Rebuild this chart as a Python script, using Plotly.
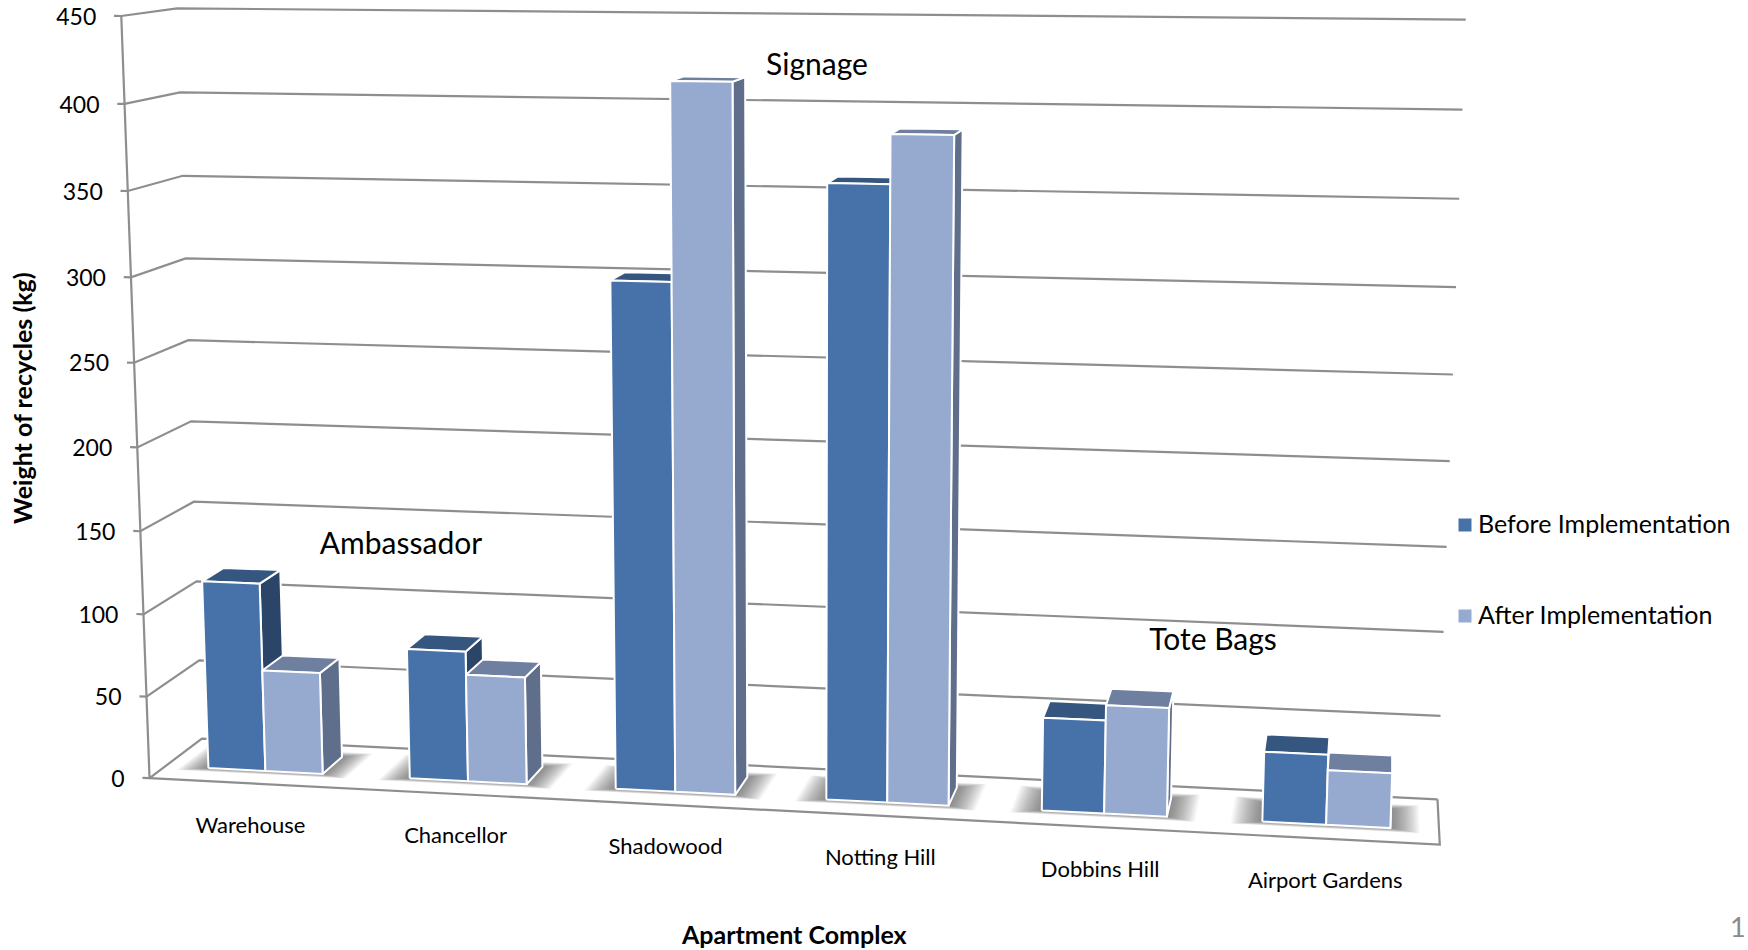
import numpy as np
import plotly.graph_objects as go

# Recycling weights per apartment complex (kg)
complexes = ["Warehouse", "Chancellor", "Shadowood", "Notting Hill", "Dobbins Hill", "Airport Gardens"]
before_kg = [115, 79, 301, 359, 55, 41]
after_kg = [62, 65, 415, 387, 64, 32]
value_ticks = [0, 50, 100, 150, 200, 250, 300, 350, 400, 450]
campaigns = ["Ambassador", "Signage", "Tote Bags"]
series_names = ["Before Implementation", "After Implementation"]

FONT = "Lato"
GRID = "#8e8e8e"
BLUE = {"front": "#4672A9", "top": "#35577F", "side": "#2B4569"}
PALE = {"front": "#96AAD0", "top": "#6E7F9F", "side": "#5F6E8A"}

# Perspective camera fitted to the chart box: (category, value, depth) -> canvas pixels
box_uvw = np.array([
    (0, 0, 0), (0, 450, 0), (0, 0, 1), (0, 450, 1), (6, 0, 1), (6, 450, 1), (6, 0, 0),
    (0, 150, 0), (0, 150, 1), (6, 400, 1), (6, 50, 1),
], float)
box_px = np.array([
    (149, 778), (122, 16), (203, 738), (177, 8), (1438, 799), (1466, 19), (1440, 844),
    (140, 532), (193, 502), (1462, 110), (1440, 717),
], float)


def fit_camera(uvw, px):
    rows = []
    for (u, v, w), (x, y) in zip(uvw, px):
        p = [u / 6, v / 450, w, 1]
        rows.append(p + [0, 0, 0, 0] + [-x / 1000 * c for c in p])
        rows.append([0, 0, 0, 0] + p + [-y / 1000 * c for c in p])
    return np.linalg.svd(np.array(rows))[2][-1].reshape(3, 4)


CAMERA = fit_camera(box_uvw, box_px)


def project(u, v, w):
    h = CAMERA @ np.array([u / 6, v / 450, w, 1.0])
    return h[0] / h[2] * 1000, h[1] / h[2] * 1000


fig = go.Figure()


def polyline(points, color=GRID, width=2.2):
    xy = [project(*p) for p in points]
    fig.add_trace(go.Scatter(x=[a for a, _ in xy], y=[b for _, b in xy], mode="lines",
                             line=dict(color=color, width=width), hoverinfo="skip"))


def polygon(points, fill, line="#FFFFFF", width=0):
    xy = [project(*p) for p in points]
    xy.append(xy[0])
    fig.add_trace(go.Scatter(x=[a for a, _ in xy], y=[b for _, b in xy], mode="lines", fill="toself",
                             fillcolor=fill, line=dict(color=line, width=width), hoverinfo="skip"))


# Walls and floor
for t in value_ticks:
    polyline([(-0.035, t, 0), (0, t, 0), (0, t, 1), (6, t, 1)])
polyline([(0, 0, 0), (0, 450, 0)])
polyline([(0, 0, 0), (6, 0, 0), (6, 0, 1)])

BAR_START, BAR_WIDTH = 0.215, 0.285
DEPTH_FRONT, DEPTH_BACK = 0.30, 0.72

# Soft shadows on the floor, built from stacked translucent plates
SHADOW_LAYERS = 26
for i in range(len(complexes)):
    left, right = i + BAR_START, i + BAR_START + 2 * BAR_WIDTH
    for k in range(SHADOW_LAYERS):
        spread = (k + 1) / SHADOW_LAYERS
        near = DEPTH_FRONT - 0.08 * spread
        far = DEPTH_BACK + 0.12 * spread
        polygon([(left - 0.14 * spread, 0, near), (right + 0.13 * spread, 0, near),
                 (right + 0.13 * spread, 0, far), (left - 0.14 * spread, 0, far)],
                "rgba(60,60,60,0.03)", line="rgba(0,0,0,0)")


def bar(u0, u1, value, colors):
    d0, d1 = DEPTH_FRONT, DEPTH_BACK
    polygon([(u1, 0, d0), (u1, 0, d1), (u1, value, d1), (u1, value, d0)], colors["side"], width=2)
    polygon([(u0, value, d0), (u1, value, d0), (u1, value, d1), (u0, value, d1)], colors["top"], width=2)
    polygon([(u0, 0, d0), (u1, 0, d0), (u1, value, d0), (u0, value, d0)], colors["front"], width=2)


for i in range(len(complexes)):
    u = i + BAR_START
    bar(u, u + BAR_WIDTH, before_kg[i], BLUE)
    bar(u + BAR_WIDTH, u + 2 * BAR_WIDTH, after_kg[i], PALE)

# Tick labels sit just left of the front axis
tick_xy = [project(0, t, 0) for t in value_ticks]
fig.add_trace(go.Scatter(x=[p[0] - 25 for p in tick_xy], y=[p[1] + 3 for p in tick_xy], mode="text",
                         text=[str(t) for t in value_ticks], textposition="middle left",
                         textfont=dict(family=FONT, size=23, color="#000000"), hoverinfo="skip"))

# Category labels hang below the front edge of the floor
cat_xy = [project(i + 0.5, 0, 0) for i in range(len(complexes))]
fig.add_trace(go.Scatter(x=[p[0] for p in cat_xy], y=[p[1] + 44 for p in cat_xy], mode="text",
                         text=complexes, textposition="middle center",
                         textfont=dict(family=FONT, size=22, color="#000000"), hoverinfo="skip"))

# Campaign captions
fig.add_trace(go.Scatter(x=[401, 817, 1213], y=[546, 67, 642], mode="text", text=campaigns,
                         textposition="middle center",
                         textfont=dict(family=FONT, size=30, color="#000000"), hoverinfo="skip"))

# Key
for name, colors, y in zip(series_names, (BLUE, PALE), (525, 616)):
    fig.add_trace(go.Scatter(x=[1465], y=[y], mode="markers", name=name,
                             marker=dict(symbol="square", size=13, color=colors["front"]), hoverinfo="skip"))
    fig.add_trace(go.Scatter(x=[1478], y=[y + 2], mode="text", text=[name], textposition="middle right",
                             textfont=dict(family=FONT, size=25, color="#000000"), hoverinfo="skip"))

fig.update_layout(
    width=1748, height=950, autosize=False, showlegend=False,
    margin=dict(l=0, r=0, t=0, b=0), paper_bgcolor="#FFFFFF", plot_bgcolor="#FFFFFF",
    xaxis=dict(range=[0, 1748], visible=False),
    yaxis=dict(range=[950, 0], visible=False),
    annotations=[
        dict(x=794, y=934, xref="x", yref="y", text="<b>Apartment Complex</b>", showarrow=False,
             font=dict(family=FONT, size=25, color="#000000")),
        dict(x=22, y=398, xref="x", yref="y", text="<b>Weight of recycles (kg)</b>", showarrow=False, textangle=-90,
             font=dict(family=FONT, size=25, color="#000000")),
        dict(x=1748, y=926, xref="x", yref="y", text="1", showarrow=False, xanchor="right",
             font=dict(family=FONT, size=27, color="#8a8a8a")),
    ],
)
fig.write_html("out.html", config={"displayModeBar": False})
